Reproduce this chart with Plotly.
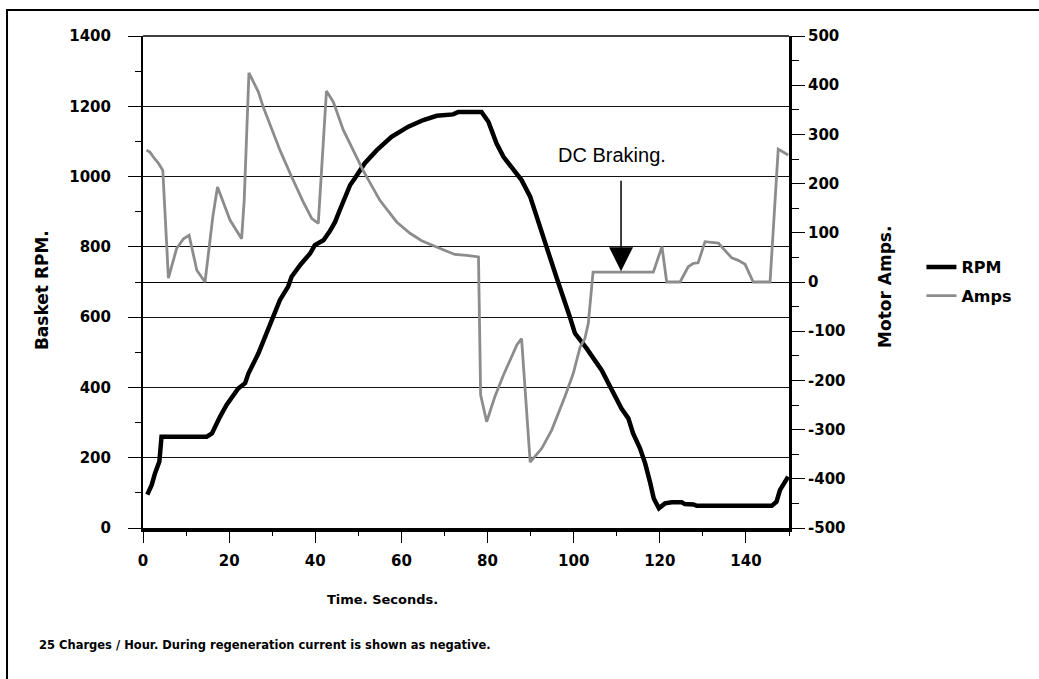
import plotly.graph_objects as go

# Basket RPM (black line)
time_rpm = [1, 2, 2.8, 3.8, 4.3, 14.8, 16, 16.7, 17.9, 19.4, 21, 22.1, 23.7, 24.5, 26.8,
            28.3, 29.9, 31.8, 33.7, 34.5, 36.6, 38.8, 39.9, 41.9, 43.4, 44.6, 45.7, 46.9,
            48.1, 49.2, 51.5, 54.3, 57.7, 61.6, 65.1, 68.2, 72, 73.2, 78.6, 80.2, 81.3,
            82.1, 83.7, 85.6, 87.9, 89.9, 91.8, 93.7, 96.1, 97.6, 99.1, 100.3, 103, 106.5,
            109.2, 111.1, 112.7, 113.8, 115.4, 116.6, 117.7, 118.6, 119.8, 121.2, 122.8,
            125.1, 125.8, 127.8, 128.6, 146, 147.1, 147.9, 149.8]
rpm = [95, 122, 156, 189, 260, 260, 269, 288, 317, 350, 378, 397, 412, 440, 497,
       544, 597, 649, 687, 715, 750, 781, 805, 819, 845, 871, 905, 945,
       976, 995, 1038, 1075, 1113, 1142, 1161, 1173, 1177, 1184, 1184, 1156, 1118,
       1094, 1056, 1028, 990, 943, 867, 800, 710, 658, 601, 554, 511, 449,
       388, 340, 312, 269, 227, 184, 132, 84, 56, 70, 73,
       73, 68, 67, 63, 63, 75, 108, 146]

# Motor amps (grey line)
time_amps = [0.8, 1.6, 2.4, 3.6, 4.6, 5.9, 7.8, 9.4, 10.7, 12.5, 14.4, 16.2, 17.3, 20.2,
             22.9, 23.5, 24.6, 26.8, 27.9, 29.5, 31.8, 34.5, 37.2, 39.2, 40.7, 42.6, 44.2,
             46.5, 49.2, 51.1, 55, 58.9, 62, 64.7, 69, 72.4, 75.2, 77.9, 78.4, 79.8, 81.7,
             83.7, 85.6, 86.8, 87.9, 89.9, 92.6, 94.9, 98, 99.9, 101.5, 102.6, 103.4, 104.5,
             118.5, 120.5, 121.6, 124.7, 126.6, 127.8, 128.9, 130.5, 133.6, 135.1, 136.7,
             138.2, 139.8, 141.7, 145.6, 147.5, 149.8]
amps = [268, 264, 254, 241, 227, 8, 68, 88, 95, 24, 0, 132, 193, 126,
        88, 166, 425, 386, 356, 319, 268, 214, 163, 129, 119, 388, 366,
        309, 261, 227, 166, 122, 99, 84, 68, 56, 54, 51, -230, -284, -233,
        -189, -152, -128, -115, -366, -338, -301, -232, -186, -132, -115, -84, 20,
        20, 72, 0, 0, 31, 38, 39, 82, 79, 65, 49,
        44, 36, 0, 0, 270, 258]

rpm_ticks = [0, 200, 400, 600, 800, 1000, 1200, 1400]
amp_ticks = [-500, -400, -300, -200, -100, 0, 100, 200, 300, 400, 500]

FONT = "DejaVu Sans"

fig = go.Figure()
fig.add_trace(go.Scatter(x=time_rpm, y=rpm, name="RPM", mode="lines",
                         line=dict(color="black", width=4.5), legendgroup="a"))
fig.add_trace(go.Scatter(x=time_amps, y=amps, name="Amps", mode="lines", yaxis="y2",
                         line=dict(color="#8c8c8c", width=2.8), legendgroup="b"))

fig.update_layout(
    width=1039, height=679,
    margin=dict(l=143, r=250, t=36, b=151),
    paper_bgcolor="white", plot_bgcolor="white",
    font=dict(family=FONT, color="black"),
    showlegend=True,
    legend=dict(x=1.205, y=0.565, xanchor="left", yanchor="top", tracegroupgap=5,
                font=dict(size=16, weight="bold"), bgcolor="rgba(0,0,0,0)"),
    xaxis=dict(range=[0, 150], dtick=20, tick0=0, showgrid=False, zeroline=False,
               showline=True, linecolor="black", linewidth=4,
               ticks="outside", ticklen=11, tickwidth=1, tickcolor="black",
               minor=dict(dtick=10, ticks="outside", ticklen=4, tickcolor="black"),
               tickfont=dict(size=15, weight="bold"), ticklabelstandoff=5),
    yaxis=dict(range=[0, 1400], tickvals=rpm_ticks, ticktext=[str(v) for v in rpm_ticks],
               showgrid=True, gridcolor="#111", gridwidth=1, zeroline=False,
               showline=True, linecolor="black", linewidth=2,
               ticks="outside", ticklen=13, tickwidth=1, tickcolor="black",
               minor=dict(dtick=100, ticks="outside", ticklen=6, tickcolor="black"),
               tickfont=dict(size=15, weight="bold"), ticklabelstandoff=14),
    yaxis2=dict(range=[-500, 500], overlaying="y", side="right",
                tickvals=amp_ticks, ticktext=[str(v) for v in amp_ticks],
                showgrid=False, zeroline=True, zerolinecolor="black", zerolinewidth=1,
                showline=True, linecolor="black", linewidth=3,
                ticks="outside", ticklen=13, tickwidth=1, tickcolor="black",
                minor=dict(dtick=50, ticks="outside", ticklen=7, tickcolor="black"),
                tickfont=dict(size=15, weight="bold"), ticklabelstandoff=0),
)

# frame (only left and top edges are visible) and top edge of the plot area
fig.add_shape(type="path", xref="paper", yref="paper",
              path="M -0.2105,-0.4 L -0.2105,1.0528 L 1.45,1.0528",
              line=dict(color="black", width=2))
fig.add_shape(type="line", xref="paper", yref="paper", x0=0, x1=1, y0=1, y1=1,
              line=dict(color="black", width=1.5))

# titles
fig.add_annotation(text="Basket RPM.", xref="paper", yref="paper", x=-0.156, y=0.484,
                   xanchor="center", yanchor="middle",
                   textangle=-90, showarrow=False, font=dict(size=17, weight="bold"))
fig.add_annotation(text="Motor Amps.", xref="paper", yref="paper", x=1.1486, y=0.49,
                   xanchor="center", yanchor="middle",
                   textangle=-90, showarrow=False, font=dict(size=17, weight="bold"))
fig.add_annotation(text="Time. Seconds.", xref="paper", yref="paper", x=0.37, y=-0.146,
                   xanchor="center", yanchor="middle",
                   showarrow=False, font=dict(size=13, weight="bold"))
fig.add_annotation(text="25 Charges / Hour. During regeneration current is shown as negative.",
                   xref="paper", yref="paper", x=-0.164, y=-0.238, xanchor="left",
                   yanchor="middle", showarrow=False, font=dict(size=11.5, weight="bold"))

# DC braking callout
fig.add_annotation(text="DC Braking.", x=108.9, y=1061, showarrow=False,
                   font=dict(family="Liberation Sans", size=20))
fig.add_annotation(text="", x=111, y=22, yref="y2", ax=0, ay=-92,
                   showarrow=True, arrowhead=2, arrowsize=3.2, arrowwidth=1.5,
                   arrowcolor="black")

# drop the page's body margin so the figure fills the window exactly
fig.write_html("out.html", config={"displayModeBar": False},
               post_script="document.body.style.margin='0';"
                           "document.body.style.overflow='hidden';")
